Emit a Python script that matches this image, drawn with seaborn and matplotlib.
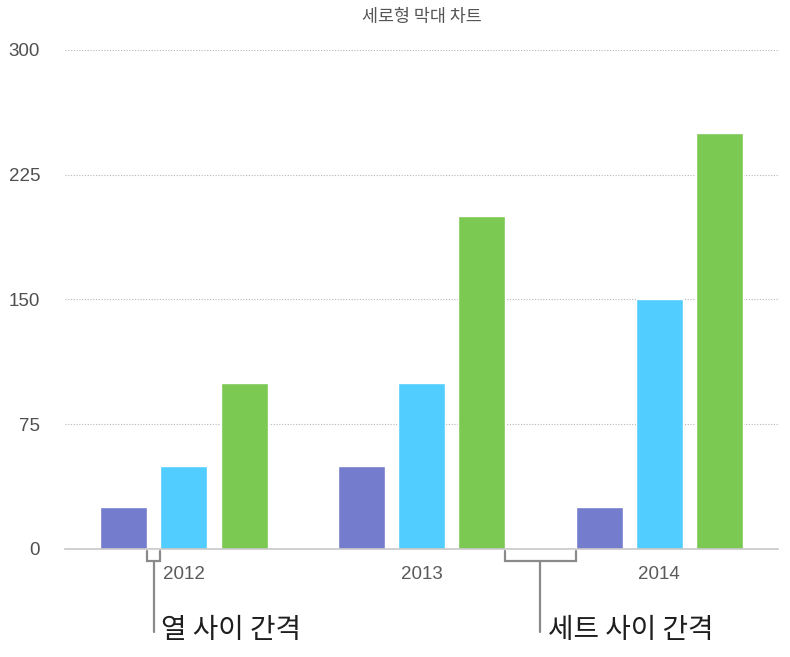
import numpy as np
import pandas as pd
import seaborn as sns
import matplotlib
matplotlib.use("Agg")
import matplotlib.pyplot as plt
import matplotlib.transforms as mtransforms

years = ["2012", "2013", "2014"]
series = ["A", "B", "C"]
values_a = [25, 50, 25]
values_b = [50, 100, 150]
values_c = [100, 200, 250]
yticks = [0, 75, 150, 225, 300]
colors = ["#747cce", "#52cdff", "#7bc952"]

title = "세로형 막대 차트"
col_gap_label = "열 사이 간격"
set_gap_label = "세트 사이 간격"

df = pd.DataFrame({
    "year": years * 3,
    "series": [s for s in series for _ in years],
    "value": values_a + values_b + values_c,
})

sns.set_style("white")
plt.rcParams["font.family"] = ["Liberation Sans", "Noto Sans CJK KR", "DejaVu Sans"]

fig = plt.figure(figsize=(7.9, 6.57), dpi=100)
ax = fig.add_axes([0.0823, 0.1644, 0.9027, 0.7596])

sns.barplot(data=df, x="year", y="value", hue="series", palette=colors,
            width=0.76, gap=0.22, saturation=1, legend=False, ax=ax)

ax.set_xlim(-0.5, 2.5)
ax.set_ylim(0, 300)
ax.set_yticks(yticks)
ax.set_xlabel("")
ax.set_ylabel("")
ax.yaxis.grid(True, linestyle=(0, (1, 1.5)), color="#b5b5b5", linewidth=0.8)
ax.set_axisbelow(True)
for side in ["left", "right", "top"]:
    ax.spines[side].set_visible(False)
ax.spines["bottom"].set_color("#c8c8c8")
ax.spines["bottom"].set_linewidth(1.2)
ax.tick_params(axis="y", length=0, pad=18, labelsize=13.5, labelcolor="#505050")
ax.tick_params(axis="x", length=0, pad=12, labelsize=13.5, labelcolor="#5a5a5a")
for t in ax.get_yticklabels():
    t.set_horizontalalignment("right")

ax.set_title(title, fontsize=12.5, color="#555555", pad=20,
             family=["Noto Sans CJK KR", "DejaVu Sans"])

# brackets marking the gaps, taken from the drawn bars
bars = sorted([p for p in ax.patches if p.get_height() > 0], key=lambda p: p.get_x())
trans = mtransforms.blended_transform_factory(ax.transData, ax.transAxes)
bcol = "#8a8a8a"
y_top, y_br, y_end = -0.004, -0.024, -0.166


def bracket(x0, x1, label):
    xm = (x0 + x1) / 2
    ax.plot([x0, x0, x1, x1], [y_top, y_br, y_br, y_top], color=bcol, lw=1.6,
            transform=trans, clip_on=False, solid_joinstyle="miter")
    ax.plot([xm, xm], [y_br, y_end], color=bcol, lw=1.6, transform=trans, clip_on=False)
    ax.text(xm + 0.03, y_end + 0.003, label, transform=trans, fontsize=20,
            color="#1e1e1e", ha="left", va="center",
            family=["Noto Sans CJK KR", "DejaVu Sans"])


b0, b1 = bars[0], bars[1]
bracket(b0.get_x() + b0.get_width(), b1.get_x(), col_gap_label)
b5, b6 = bars[5], bars[6]
bracket(b5.get_x() + b5.get_width(), b6.get_x(), set_gap_label)

fig.savefig("out.png", dpi=100)
